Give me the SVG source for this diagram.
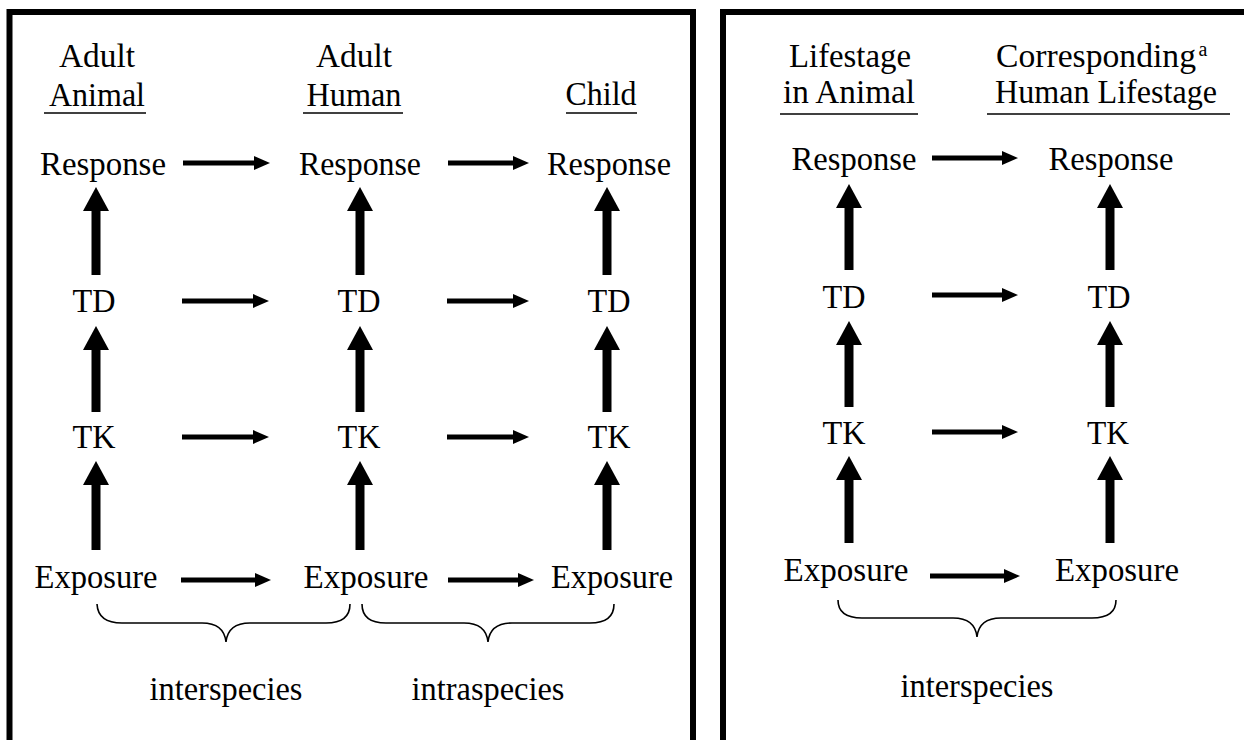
<svg xmlns="http://www.w3.org/2000/svg" width="1244" height="740" viewBox="0 0 1244 740">
<style>
text{font-family:"Liberation Serif","Times New Roman",serif;font-size:34px;fill:#000;text-anchor:middle}
.frame{fill:none;stroke:#000;stroke-width:6}
.ul{stroke:#000;stroke-width:1.5}
.v{stroke:#000;stroke-width:9;marker-end:url(#bigHead)}
.h{stroke:#000;stroke-width:5;marker-end:url(#smallHead)}
.brace{fill:none;stroke:#000;stroke-width:1.6}
</style>
<defs>
<marker id="bigHead" markerUnits="userSpaceOnUse" markerWidth="24" markerHeight="26" viewBox="0 0 24 26" refX="0" refY="13" orient="auto"><path d="M0,0 L24,13 L0,26 z" fill="#000"/></marker>
<marker id="smallHead" markerUnits="userSpaceOnUse" markerWidth="16" markerHeight="14" viewBox="0 0 16 14" refX="0" refY="7" orient="auto"><path d="M0,0 L16,7 L0,14 z" fill="#000"/></marker>
</defs>
<rect width="1244" height="740" fill="#fff"/>
<g id="frames">
<rect class="frame" x="9.5" y="12" width="683.5" height="760"/>
<rect class="frame" x="723" y="12" width="560" height="760"/>
</g>
<!-- Left panel headers -->
<g id="hdr-adult-animal">
<text x="97" y="67" textLength="76" lengthAdjust="spacingAndGlyphs">Adult</text>
<text x="97" y="106" textLength="96" lengthAdjust="spacingAndGlyphs">Animal</text>
<line class="ul" x1="44" y1="113" x2="146" y2="113"/>
</g>
<g id="hdr-adult-human">
<text x="354" y="67" textLength="76" lengthAdjust="spacingAndGlyphs">Adult</text>
<text x="354" y="106" textLength="95" lengthAdjust="spacingAndGlyphs">Human</text>
<line class="ul" x1="303" y1="113" x2="403" y2="113"/>
</g>
<g id="hdr-child">
<text x="601" y="105" textLength="71" lengthAdjust="spacingAndGlyphs">Child</text>
<line class="ul" x1="566" y1="113" x2="637" y2="113"/>
</g>
<!-- Left panel nodes -->
<g id="resp-animal"><text x="103" y="175" textLength="126" lengthAdjust="spacingAndGlyphs">Response</text></g>
<g id="resp-human"><text x="360" y="175" textLength="122" lengthAdjust="spacingAndGlyphs">Response</text></g>
<g id="resp-child"><text x="609" y="175" textLength="124" lengthAdjust="spacingAndGlyphs">Response</text></g>
<g id="td-animal"><text x="94" y="312" textLength="43" lengthAdjust="spacingAndGlyphs">TD</text></g>
<g id="td-human"><text x="359" y="312" textLength="43" lengthAdjust="spacingAndGlyphs">TD</text></g>
<g id="td-child"><text x="609" y="312" textLength="43" lengthAdjust="spacingAndGlyphs">TD</text></g>
<g id="tk-animal"><text x="94" y="448" textLength="43" lengthAdjust="spacingAndGlyphs">TK</text></g>
<g id="tk-human"><text x="359" y="448" textLength="43" lengthAdjust="spacingAndGlyphs">TK</text></g>
<g id="tk-child"><text x="609" y="448" textLength="43" lengthAdjust="spacingAndGlyphs">TK</text></g>
<g id="exp-animal"><text x="96" y="588" textLength="123" lengthAdjust="spacingAndGlyphs">Exposure</text></g>
<g id="exp-human"><text x="366" y="588" textLength="125" lengthAdjust="spacingAndGlyphs">Exposure</text></g>
<g id="exp-child"><text x="612" y="588" textLength="122" lengthAdjust="spacingAndGlyphs">Exposure</text></g>
<g id="lbl-inter-left"><text x="226" y="700" textLength="153" lengthAdjust="spacingAndGlyphs">interspecies</text></g>
<g id="lbl-intra"><text x="488" y="700" textLength="153" lengthAdjust="spacingAndGlyphs">intraspecies</text></g>
<!-- Right panel headers -->
<g id="hdr-lifestage-animal">
<text x="850" y="67" textLength="122" lengthAdjust="spacingAndGlyphs">Lifestage</text>
<text x="849" y="103" textLength="132" lengthAdjust="spacingAndGlyphs">in Animal</text>
<line class="ul" x1="780" y1="114" x2="918" y2="114"/>
</g>
<g id="hdr-corresponding">
<text x="1096" y="67" textLength="200" lengthAdjust="spacingAndGlyphs">Corresponding</text>
<text x="1203" y="56" style="font-size:20px">a</text>
<text x="1106" y="103" textLength="222" lengthAdjust="spacingAndGlyphs">Human Lifestage</text>
<line class="ul" x1="987" y1="114" x2="1230" y2="114"/>
</g>
<!-- Right panel nodes -->
<g id="r-resp-animal"><text x="854" y="170" textLength="125" lengthAdjust="spacingAndGlyphs">Response</text></g>
<g id="r-resp-human"><text x="1111" y="170" textLength="125" lengthAdjust="spacingAndGlyphs">Response</text></g>
<g id="r-td-animal"><text x="844" y="308" textLength="43" lengthAdjust="spacingAndGlyphs">TD</text></g>
<g id="r-td-human"><text x="1109" y="308" textLength="43" lengthAdjust="spacingAndGlyphs">TD</text></g>
<g id="r-tk-animal"><text x="844" y="444" textLength="43" lengthAdjust="spacingAndGlyphs">TK</text></g>
<g id="r-tk-human"><text x="1108" y="444" textLength="42" lengthAdjust="spacingAndGlyphs">TK</text></g>
<g id="r-exp-animal"><text x="846" y="581" textLength="125" lengthAdjust="spacingAndGlyphs">Exposure</text></g>
<g id="r-exp-human"><text x="1117" y="581" textLength="124" lengthAdjust="spacingAndGlyphs">Exposure</text></g>
<g id="r-lbl-inter"><text x="977" y="697" textLength="153" lengthAdjust="spacingAndGlyphs">interspecies</text></g>
<!-- Connectors -->
<g id="connectors">
<line class="h" x1="183" y1="163" x2="254" y2="163"/>
<line class="h" x1="448" y1="163" x2="513" y2="163"/>
<line class="h" x1="182" y1="301" x2="253" y2="301"/>
<line class="h" x1="447" y1="301" x2="513" y2="301"/>
<line class="h" x1="182" y1="437" x2="253" y2="437"/>
<line class="h" x1="447" y1="437" x2="513" y2="437"/>
<line class="h" x1="181" y1="580" x2="255" y2="580"/>
<line class="h" x1="448" y1="580" x2="518" y2="580"/>
<line class="v" x1="96" y1="275" x2="96" y2="211"/>
<line class="v" x1="360" y1="275" x2="360" y2="211"/>
<line class="v" x1="607" y1="275" x2="607" y2="211"/>
<line class="v" x1="96" y1="412" x2="96" y2="350"/>
<line class="v" x1="360" y1="412" x2="360" y2="350"/>
<line class="v" x1="607" y1="412" x2="607" y2="350"/>
<line class="v" x1="96" y1="550" x2="96" y2="485"/>
<line class="v" x1="360" y1="550" x2="360" y2="485"/>
<line class="v" x1="607" y1="550" x2="607" y2="485"/>
<line class="h" x1="932" y1="158" x2="1002" y2="158"/>
<line class="h" x1="932" y1="295" x2="1002" y2="295"/>
<line class="h" x1="932" y1="432" x2="1002" y2="432"/>
<line class="h" x1="930" y1="576" x2="1004" y2="576"/>
<line class="v" x1="849" y1="270" x2="849" y2="208"/>
<line class="v" x1="1110" y1="270" x2="1110" y2="208"/>
<line class="v" x1="849" y1="407" x2="849" y2="345"/>
<line class="v" x1="1110" y1="407" x2="1110" y2="345"/>
<line class="v" x1="849" y1="543" x2="849" y2="480"/>
<line class="v" x1="1110" y1="543" x2="1110" y2="480"/>
<path class="brace" d="M97,604 Q98,623 122,623 L202,623 Q224,623 226,642 Q228,623 250,623 L326,623 Q350,623 350,604"/>
<path class="brace" d="M362,604 Q362,623 386,623 L464,623 Q486,623 488,642 Q490,623 512,623 L590,623 Q614,623 614,604"/>
<path class="brace" d="M838,600 Q838,618 862,618 L953,618 Q975,618 977,637 Q979,618 1001,618 L1092,618 Q1116,618 1116,600"/>
</g>
</svg>
